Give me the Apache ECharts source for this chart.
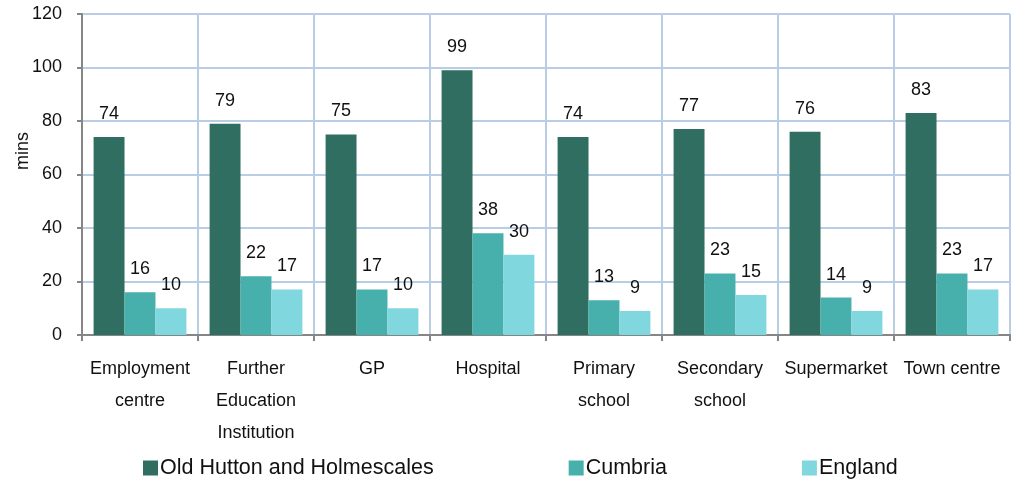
<!DOCTYPE html>
<html><head><meta charset="utf-8">
<script src="https://cdn.jsdelivr.net/npm/echarts@6/dist/echarts.min.js"></script>
<style>html,body{margin:0;padding:0;background:#fff}#c{width:1020px;height:480px}</style>
</head><body><div id="c"></div>
<script>
var categories = ['Employment\ncentre', 'Further\nEducation\nInstitution', 'GP', 'Hospital', 'Primary\nschool', 'Secondary\nschool', 'Supermarket', 'Town centre'];
var seriesNames = ['Old Hutton and Holmescales', 'Cumbria', 'England'];
var oldHutton = [74, 79, 75, 99, 74, 77, 76, 83];
var cumbria = [16, 22, 17, 38, 13, 23, 14, 23];
var england = [10, 17, 10, 30, 9, 15, 9, 17];
var yTicks = [0, 20, 40, 60, 80, 100, 120];

var colors = ['#316e62', '#47b0ad', '#80d7dd'];
var font = 'Liberation Sans, Arial, sans-serif';
function mk(name, data, color) {
  return {
    name: name, type: 'bar', data: data, barGap: '0%', barCategoryGap: '20%',
    itemStyle: { color: color },
    label: { show: true, position: 'top', distance: 14, color: '#111', fontSize: 18, fontFamily: font }
  };
}
var chart = echarts.init(document.getElementById('c'), null, { renderer: 'canvas' });
chart.setOption({
  animation: false,
  color: colors,
  grid: { left: 82, right: 10, top: 14, bottom: 145, containLabel: false },
  legend: {
    left: 138, top: 452, itemWidth: 15, itemHeight: 15, itemGap: 135,
    icon: 'rect',
    textStyle: { fontSize: 21.5, color: '#111', fontFamily: font, padding: [0, 0, 0, -3] },
    data: seriesNames
  },
  graphic: [{
    type: 'text', left: 14, top: 132, rotation: Math.PI / 2,
    style: { text: 'mins', fontSize: 18, fill: '#111', fontFamily: font }
  }],
  xAxis: {
    type: 'category', data: categories,
    axisLine: { lineStyle: { color: '#868686', width: 2 } },
    axisTick: { show: true, length: 6, lineStyle: { color: '#868686', width: 2 } },
    splitLine: { show: true, lineStyle: { color: '#b9cde5', width: 2 } },
    axisLabel: { fontSize: 18, color: '#111', fontFamily: font, lineHeight: 32, margin: 18, interval: 0 }
  },
  yAxis: {
    type: 'value', min: yTicks[0], max: yTicks[yTicks.length - 1], interval: 20,
    axisLine: { show: true, lineStyle: { color: '#868686', width: 2 } },
    axisTick: { show: true, length: 5, lineStyle: { color: '#868686', width: 2 } },
    splitLine: { show: true, lineStyle: { color: '#b9cde5', width: 2 } },
    axisLabel: { fontSize: 18, color: '#111', fontFamily: font, margin: 20 }
  },
  series: [mk(seriesNames[0], oldHutton, colors[0]), mk(seriesNames[1], cumbria, colors[1]), mk(seriesNames[2], england, colors[2])]
});
</script></body></html>
